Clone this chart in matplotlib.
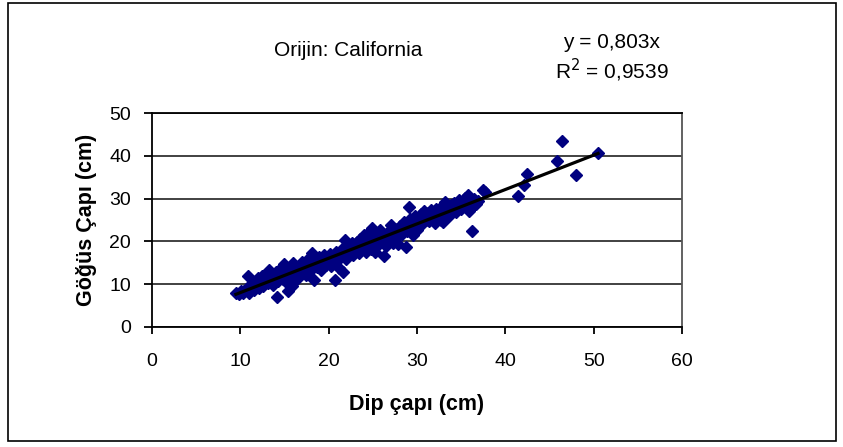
"""Scatter of breast-height diameter vs. stump diameter, California origin."""

import matplotlib

matplotlib.use("Agg")

import matplotlib.pyplot as plt
from matplotlib.patches import Rectangle

plt.rcParams["font.family"] = ["Liberation Sans", "DejaVu Sans"]

# Dip çapı (cm) / Göğüs çapı (cm)
dip_capi = [
    9.5, 9.8, 10.1, 10.3, 10.6, 10.9, 10.8, 11.0, 11.2, 11.4, 11.5, 11.8, 12.0, 12.1, 12.3,
    12.5, 12.6, 12.8, 13.0, 13.1, 13.2, 13.4, 13.6, 13.7, 13.9, 14.0, 14.2, 14.3, 14.5, 14.6,
    14.8, 15.0, 15.1, 15.2, 15.4, 15.5, 15.7, 15.8, 16.0, 16.1, 16.3, 16.4, 16.6, 16.8, 17.0,
    17.2, 17.4, 17.6, 17.8, 18.0, 18.1, 18.3, 18.5, 18.7, 18.9, 19.1, 19.3, 19.5, 19.7, 19.9,
    20.1, 20.3, 20.5, 20.7, 20.8, 21.0, 21.2, 21.3, 21.5, 21.6, 21.8, 21.9, 22.0, 22.2, 22.4,
    22.6, 22.8, 23.0, 23.2, 23.4, 23.6, 23.8, 24.0, 24.2, 24.4, 24.6, 24.8, 24.9, 25.0, 25.2,
    25.4, 25.6, 25.8, 26.0, 26.2, 26.3, 26.5, 26.7, 26.9, 27.1, 27.3, 27.5, 27.7, 27.9, 28.1,
    28.3, 28.5, 28.7, 28.9, 29.1, 29.2, 29.4, 29.6, 29.8, 30.0, 30.2, 30.4, 30.6, 30.8, 31.0,
    31.2, 31.4, 31.6, 31.8, 32.0, 32.2, 32.4, 32.7, 32.9, 33.0, 33.2, 33.4, 33.6, 33.8, 34.0,
    34.2, 34.4, 34.6, 34.8, 35.0, 35.2, 35.4, 35.6, 35.8, 35.9, 36.0, 36.2, 36.3, 36.5, 36.7,
    36.9, 37.5, 37.7, 41.4, 42.1, 42.5, 45.9, 46.4, 48.0, 50.5,
    # extra points filling the dense band
    10.4, 11.1, 11.7, 12.4, 13.3, 14.1, 14.9, 15.6, 16.5, 17.3, 18.2, 19.0, 19.8, 20.6, 21.4,
    22.3, 23.1, 23.9, 24.7, 25.5, 26.4, 27.2, 28.0, 28.8, 29.7, 30.5, 31.3, 32.1, 33.1, 34.1,
    35.1, 36.1,
]
gogus_capi = [
    8.0, 7.8, 8.4, 7.9, 8.6, 11.8, 9.2, 8.0, 9.6, 10.3, 8.6, 9.9, 11.4, 9.0, 10.6,
    12.0, 9.5, 10.9, 11.7, 10.2, 13.3, 11.0, 12.4, 9.8, 11.6, 12.8, 6.9, 10.8, 13.6, 12.0,
    11.3, 14.7, 12.6, 10.4, 8.3, 13.4, 11.9, 9.5, 14.9, 12.8, 13.7, 11.2, 14.2, 12.5, 15.3,
    13.9, 12.2, 14.6, 16.2, 13.4, 17.2, 11.0, 15.1, 14.0, 16.4, 13.2, 15.7, 16.9, 14.5, 15.9,
    17.1, 14.2, 16.3, 11.0, 17.6, 15.4, 13.8, 16.8, 18.3, 12.9, 17.0, 20.4, 15.9, 18.9, 17.5,
    19.6, 16.8, 18.4, 19.9, 17.2, 20.6, 18.7, 21.5, 17.6, 19.4, 22.3, 18.3, 23.1, 20.6, 17.5,
    21.8, 19.1, 22.6, 20.2, 21.4, 16.6, 18.9, 22.1, 20.7, 23.9, 19.6, 22.8, 21.2, 19.3, 23.5,
    21.8, 24.6, 18.8, 22.4, 28.0, 25.3, 23.6, 21.4, 25.9, 22.7, 24.8, 26.3, 24.1, 27.0, 25.4,
    26.6, 24.7, 27.3, 25.9, 24.2, 27.6, 26.1, 25.0, 28.6, 24.6, 29.3, 27.2, 26.0, 28.4, 27.7,
    29.0, 26.8, 28.3, 29.6, 27.5, 28.8, 30.2, 28.0, 30.9, 27.0, 29.4, 22.5, 28.2, 29.9, 28.7,
    29.4, 32.0, 31.6, 30.5, 33.1, 35.8, 38.9, 43.5, 35.6, 40.7,
    8.5, 9.0, 9.3, 10.0, 10.7, 11.3, 12.0, 12.5, 13.2, 13.9, 14.6, 15.2, 15.9, 16.5, 17.2,
    17.9, 18.6, 19.2, 19.8, 20.5, 21.2, 21.8, 22.5, 23.1, 23.8, 24.5, 25.1, 25.8, 26.6, 27.4,
    28.2, 29.0,
]

egim = 0.803        # trend line through origin, y = 0,803x
r_kare = "0,9539"

fig = plt.figure(figsize=(8.43, 4.47), dpi=100)
fig.patches.append(Rectangle((0.009, 0.013), 0.983, 0.98, transform=fig.transFigure,
                             fill=False, edgecolor="black", linewidth=1.2))

ax = fig.add_axes([0.1803, 0.2685, 0.6287, 0.4787])
ax.plot(dip_capi, gogus_capi, linestyle="none", marker="D", markersize=6.6,
        color="#000080", markeredgecolor="#000080", zorder=3)

x_min, x_max = min(dip_capi), max(dip_capi)
ax.plot([x_min, x_max], [egim * x_min, egim * x_max], color="black", linewidth=2.3, zorder=4)

ax.set_xlim(0, 60)
ax.set_ylim(0, 50)
ax.set_xticks(range(0, 61, 10))
ax.set_yticks(range(0, 51, 10))
ax.yaxis.grid(True, color="#333333", linewidth=1.3)
ax.set_axisbelow(True)
for side in ["left", "bottom", "top", "right"]:
    ax.spines[side].set_linewidth(1.3)
ax.spines["right"].set_color("#555555")
ax.tick_params(axis="x", direction="out", length=5, width=1.3, pad=14, labelsize=14)
ax.tick_params(axis="y", direction="out", length=6, width=1.3, pad=9, labelsize=14)

ax.set_xlabel("Dip çapı (cm)", fontsize=15.5, fontweight="bold", va="center")
ax.xaxis.set_label_coords(0.5, -0.36)
ax.set_ylabel("Göğüs Çapı (cm)", fontsize=15.5, fontweight="bold", va="center")
ax.yaxis.set_label_coords(-0.1245, 0.5)

fig.text(348 / 843, 1 - 51 / 447, "Orijin: California", ha="center", va="center", fontsize=15)
fig.text(612 / 843, 1 - 43 / 447, f"y = {egim:.3f}x".replace(".", ","), ha="center", va="center",
         fontsize=15)
fig.text(612 / 843, 1 - 70 / 447, f"R$^2$ = {r_kare}", ha="center", va="center", fontsize=15)

fig.savefig("out.png", dpi=100)
